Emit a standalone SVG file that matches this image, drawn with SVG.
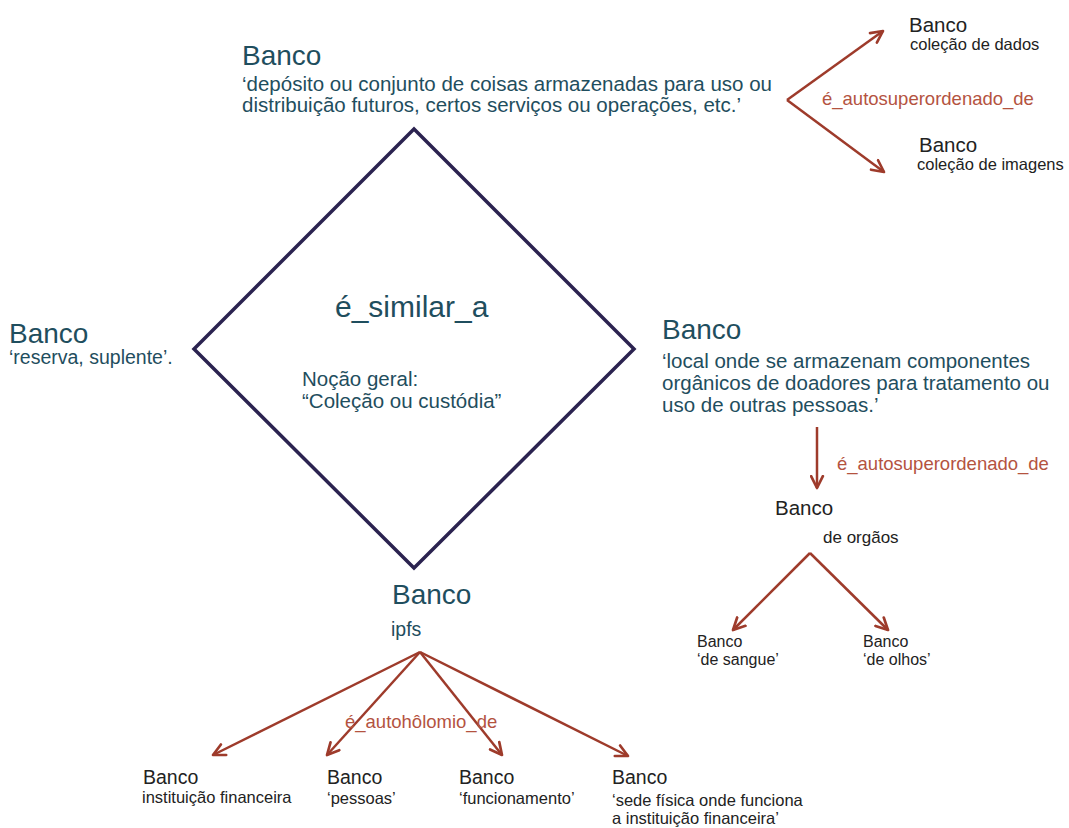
<svg xmlns="http://www.w3.org/2000/svg" width="1069" height="828" viewBox="0 0 1069 828">
<style>
text{font-family:"Liberation Sans",Arial,sans-serif;}
.t{fill:#1f4e5e;}
.k{fill:#222;}
.r{fill:#b4533f;}
.big{font-size:28px;}
.mid{font-size:20.5px;}
.sm{font-size:16.5px;}
.lbl{font-size:18.5px;}
.arr{stroke:#9e3b2b;stroke-width:2.5;fill:none;marker-end:url(#ah);}
</style>
<defs>
<marker id="ah" viewBox="0 0 14 14" refX="12.5" refY="7" markerWidth="15" markerHeight="15" markerUnits="userSpaceOnUse" orient="auto">
<path d="M1.5,1.5 L12.5,7 L1.5,12.5" fill="none" stroke="#9e3b2b" stroke-width="2.5" stroke-linecap="round" stroke-linejoin="round"/>
</marker>
</defs>
<rect width="1069" height="828" fill="#fff"/>

<g id="diamond">
<polygon points="414,129 634,349 414,568 194,349" fill="none" stroke="#2b2350" stroke-width="3.5" stroke-linejoin="miter"/>
<text class="t" x="335" y="317" font-size="30">é_similar_a</text>
<text class="t mid" x="302" y="386">Noção geral:</text>
<text class="t mid" x="302" y="408">“Coleção ou custódia”</text>
</g>

<g id="connectors">
<line class="arr" x1="787" y1="100" x2="883" y2="31"/>
<line class="arr" x1="787" y1="100" x2="884" y2="172"/>
<text class="r lbl" x="822" y="105">é_autosuperordenado_de</text>
<line class="arr" x1="817" y1="427" x2="817" y2="488"/>
<text class="r lbl" x="837" y="470">é_autosuperordenado_de</text>
<line class="arr" x1="810" y1="553" x2="733" y2="630"/>
<line class="arr" x1="810" y1="553" x2="888" y2="630"/>
<line class="arr" x1="420" y1="652" x2="213" y2="755"/>
<line class="arr" x1="420" y1="652" x2="327" y2="755"/>
<line class="arr" x1="420" y1="652" x2="502" y2="755"/>
<line class="arr" x1="420" y1="652" x2="628" y2="756"/>
<text class="r lbl" x="345" y="728">é_autohôlomio_de</text>
</g>

<g id="node-top">
<text class="t big" x="242" y="65">Banco</text>
<text class="t mid" x="242" y="91">‘depósito ou conjunto de coisas armazenadas para uso ou</text>
<text class="t mid" x="242" y="112">distribuição futuros, certos serviços ou operações, etc.’</text>
</g>

<g id="node-left">
<text class="t big" x="9" y="343">Banco</text>
<text class="t" x="9" y="364" font-size="19.5">‘reserva, suplente’.</text>
</g>

<g id="node-right">
<text class="t big" x="662" y="339">Banco</text>
<text class="t mid" x="662" y="368">‘local onde se armazenam componentes</text>
<text class="t mid" x="662" y="390">orgânicos de doadores para tratamento ou</text>
<text class="t mid" x="662" y="412">uso de outras pessoas.’</text>
</g>

<g id="node-bottom">
<text class="t big" x="392" y="604">Banco</text>
<text class="t" x="391" y="636" font-size="19.5">ipfs</text>
</g>

<g id="node-dados">
<text class="k" x="909" y="32" font-size="20.5">Banco</text>
<text class="k sm" x="910" y="50">coleção de dados</text>
</g>

<g id="node-imagens">
<text class="k" x="919" y="152" font-size="20.5">Banco</text>
<text class="k sm" x="917" y="170">coleção de imagens</text>
</g>

<g id="node-orgaos">
<text class="k" x="775" y="515" font-size="20.5">Banco</text>
<text class="k" x="823" y="543" font-size="17">de orgãos</text>
</g>

<g id="node-sangue">
<text class="k" x="697" y="647" font-size="16">Banco</text>
<text class="k" x="697" y="665" font-size="16">‘de sangue’</text>
</g>

<g id="node-olhos">
<text class="k" x="863" y="647" font-size="16">Banco</text>
<text class="k" x="863" y="665" font-size="16">‘de olhos’</text>
</g>

<g id="node-financeira">
<text class="k" x="143" y="784" font-size="19.5">Banco</text>
<text class="k sm" x="142" y="803">instituição financeira</text>
</g>

<g id="node-pessoas">
<text class="k" x="327" y="784" font-size="19.5">Banco</text>
<text class="k sm" x="327" y="804">‘pessoas’</text>
</g>

<g id="node-funcionamento">
<text class="k" x="459" y="784" font-size="19.5">Banco</text>
<text class="k sm" x="459" y="804">‘funcionamento’</text>
</g>

<g id="node-sede">
<text class="k" x="612" y="784" font-size="19.5">Banco</text>
<text class="k sm" x="612" y="806">‘sede física onde funciona</text>
<text class="k sm" x="612" y="824">a instituição financeira’</text>
</g>
</svg>
